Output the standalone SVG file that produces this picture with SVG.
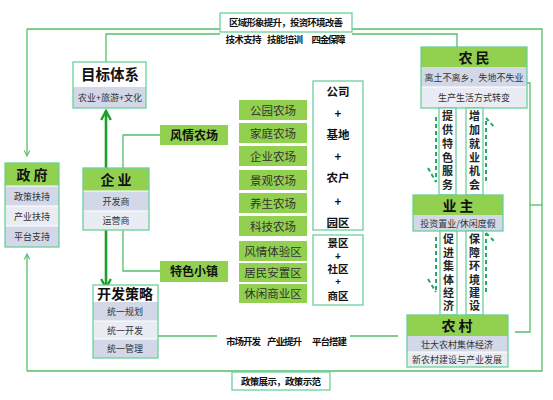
<svg xmlns="http://www.w3.org/2000/svg" width="553" height="400" viewBox="0 0 553 400">
<style>
text{font-family:"Noto Sans CJK SC","Noto Sans",sans-serif;fill:#222;text-anchor:middle}
.ln{fill:none;stroke:#55bd6b;stroke-width:1.3}
.bx{fill:none;stroke:#6ccf9c;stroke-width:1.3}
.wb{fill:#fff;stroke:#6ccf9c;stroke-width:1.3}
.hd{fill:#92d050}
.r1{fill:#d3d8e8}
.r2{fill:#e9ecf3}
.sep{stroke:#fff;stroke-width:1.2}
.h{font-size:14px;font-weight:bold;fill:#111}
.s{font-size:9px;fill:#333}
.b9{font-size:9.5px;font-weight:bold;fill:#111}
.fm{font-size:11.5px;fill:#333}
.pl{font-size:11.5px;font-weight:bold;fill:#111}
.vt{font-size:11px;font-weight:bold;fill:#222;writing-mode:vertical-rl}
.thick{fill:none;stroke:#1f9e2c;stroke-width:2.6}
.dash{fill:none;stroke:#22aa66;stroke-width:2;stroke-dasharray:4 3}
</style>
<defs>
<marker id="a1" viewBox="0 0 10 10" refX="9" refY="5" markerWidth="7" markerHeight="7" orient="auto" markerUnits="userSpaceOnUse">
<path d="M1,1 L9,5 L1,9" fill="none" stroke="#55bd6b" stroke-width="1.5"/>
</marker>
<marker id="a2" viewBox="0 0 10 10" refX="8.5" refY="5" markerWidth="12" markerHeight="12" orient="auto" markerUnits="userSpaceOnUse">
<path d="M1,1 L8.5,5 L1,9" fill="none" stroke="#1f9e2c" stroke-width="2"/>
</marker>
</defs>

<g id="connectors">
<path class="ln" d="M27,29 V156" marker-end="url(#a1)"/>
<path class="ln" d="M27,371 V254" marker-end="url(#a1)"/>
<path class="ln" d="M27,29 H542 V371 H27"/>
<path class="ln" d="M527,83 H530 V332 H515"/>
<path class="ln" d="M530,205 H542"/>
<path class="ln" d="M106,62 V34 H220"/>
<path class="ln" d="M352,34 H457 V47"/>
<path class="ln" d="M123,168 V135 H160"/>
<path class="ln" d="M123,230 V271 H160"/>
<path class="ln" d="M158,336 H217"/>
<path class="ln" d="M350,336 H398"/>
<path class="thick" d="M106,168 V111" marker-end="url(#a2)"/>
<path class="thick" d="M106,230 V288" marker-end="url(#a2)"/>
<path class="dash" d="M436,117 V182 M428,168 L436,182"/>
<path class="dash" d="M486,181 V118 M486,118 L495,128"/>
<path class="dash" d="M436,237 V292 M428,279 L436,292"/>
<path class="dash" d="M486,292 V233 M486,233 L496,243"/>
<text class="b9" x="243.5" y="43" textLength="36">技术支持</text>
<text class="b9" x="285" y="43" textLength="36">技能培训</text>
<text class="b9" x="328.5" y="43" textLength="34">四金保障</text>
<text class="b9" x="243.5" y="345" textLength="35">市场开发</text>
<text class="b9" x="284.5" y="345" textLength="35">产业提升</text>
<text class="b9" x="329.5" y="345" textLength="35">平台搭建</text>
</g>

<g id="top-box">
<rect class="wb" x="220" y="13" width="132" height="19"/>
<text class="b9" x="286" y="26" textLength="114">区域形象提升，投资环境改善</text>
</g>

<g id="bottom-box">
<rect class="wb" x="232" y="372" width="98" height="18"/>
<text class="b9" x="281" y="385" textLength="80">政策展示，政策示范</text>
</g>

<g id="zhengfu">
<rect class="hd" x="5" y="163" width="54" height="23"/>
<rect class="r1" x="5" y="186" width="54" height="20"/>
<rect class="r2" x="5" y="206" width="54" height="20"/>
<rect class="r1" x="5" y="226" width="54" height="21"/>
<path class="sep" d="M5,186 H59 M5,206 H59 M5,226 H59"/>
<rect class="bx" x="5" y="163" width="54" height="84"/>
<text class="h" x="32" y="180">政 府</text>
<text class="s" x="32" y="200">政策扶持</text>
<text class="s" x="32" y="220">产业扶持</text>
<text class="s" x="32" y="240">平台支持</text>
</g>

<g id="mubiao">
<rect fill="#fff" x="73" y="62" width="73" height="25"/>
<rect class="r1" x="73" y="87" width="73" height="21"/>
<rect class="bx" x="73" y="62" width="73" height="46"/>
<text class="h" x="110" y="80" style="font-size:14.5px">目标体系</text>
<text class="s" x="110" y="101">农业+旅游+文化</text>
</g>

<g id="qiye">
<rect class="hd" x="83" y="168" width="66" height="23"/>
<rect class="r1" x="83" y="191" width="66" height="20"/>
<rect class="r2" x="83" y="211" width="66" height="19"/>
<path class="sep" d="M83,191 H149 M83,211 H149"/>
<rect class="bx" x="83" y="168" width="66" height="62"/>
<text class="h" x="116" y="185">企 业</text>
<text class="s" x="116" y="205">开发商</text>
<text class="s" x="116" y="224">运营商</text>
</g>

<g id="kaifa">
<rect fill="#fff" x="93" y="285" width="65" height="17"/>
<rect class="r1" x="93" y="302" width="65" height="19"/>
<rect class="r2" x="93" y="321" width="65" height="18"/>
<rect class="r1" x="93" y="339" width="65" height="19"/>
<path class="sep" d="M93,321 H158 M93,339 H158"/>
<rect class="bx" x="93" y="285" width="65" height="73"/>
<text class="h" x="125" y="299">开发策略</text>
<text class="s" x="125" y="315">统一规划</text>
<text class="s" x="125" y="334">统一开发</text>
<text class="s" x="125" y="352">统一管理</text>
</g>

<g id="fengqing">
<rect class="hd" x="160" y="125" width="68" height="20"/>
<text class="pl" x="194" y="139.5" style="font-size:12px">风情农场</text>
</g>

<g id="tese">
<rect class="hd" x="160" y="261" width="68" height="21"/>
<text class="pl" x="194" y="276" style="font-size:12px">特色小镇</text>
</g>

<g id="farms">
<rect class="hd" x="239" y="100" width="68" height="20"/>
<rect class="hd" x="239" y="123" width="68" height="20"/>
<rect class="hd" x="239" y="146" width="68" height="20"/>
<rect class="hd" x="239" y="170" width="68" height="20"/>
<rect class="hd" x="239" y="193" width="68" height="20"/>
<rect class="hd" x="239" y="216" width="68" height="20"/>
<text class="fm" x="273" y="114.5">公园农场</text>
<text class="fm" x="273" y="137.5">家庭农场</text>
<text class="fm" x="273" y="160.5">企业农场</text>
<text class="fm" x="273" y="184.5">景观农场</text>
<text class="fm" x="273" y="207.5">养生农场</text>
<text class="fm" x="273" y="230.5">科技农场</text>
</g>

<g id="zones">
<rect class="hd" x="239" y="241" width="68" height="20"/>
<rect class="hd" x="239" y="263" width="68" height="19"/>
<rect class="hd" x="239" y="284" width="68" height="19"/>
<text class="fm" x="273" y="256">风情体验区</text>
<text class="fm" x="273" y="277">居民安置区</text>
<text class="fm" x="273" y="298">休闲商业区</text>
</g>

<g id="gongsi">
<rect class="wb" x="313" y="81" width="50" height="149"/>
<text class="pl"><tspan x="338" y="96">公司</tspan><tspan x="338" y="118">+</tspan><tspan x="338" y="139">基地</tspan><tspan x="338" y="161">+</tspan><tspan x="338" y="182">农户</tspan><tspan x="338" y="206">+</tspan><tspan x="338" y="227">园区</tspan></text>
</g>

<g id="jingqu">
<rect class="wb" x="313" y="235" width="50" height="70"/>
<text class="pl" style="font-size:10.5px"><tspan x="338" y="247">景区</tspan><tspan x="338" y="260" style="font-family:'Liberation Sans',sans-serif;font-size:10px">+</tspan><tspan x="338" y="273">社区</tspan><tspan x="338" y="285" style="font-family:'Liberation Sans',sans-serif;font-size:9.5px">+</tspan><tspan x="338" y="299.5">商区</tspan></text>
</g>

<g id="nongmin">
<rect class="hd" x="421" y="47" width="106" height="20"/>
<rect class="r1" x="421" y="67" width="106" height="20"/>
<rect class="r2" x="421" y="87" width="106" height="21"/>
<path class="sep" d="M421,87 H527"/>
<rect class="bx" x="421" y="47" width="106" height="61"/>
<text class="h" x="474" y="63">农 民</text>
<text class="s" x="474" y="81">离土不离乡，失地不失业</text>
<text class="s" x="474" y="101">生产生活方式转变</text>
</g>

<g id="v1">
<rect class="wb" x="439" y="108" width="17" height="87"/>
<text class="vt" x="447.5" y="152" style="letter-spacing:2.8px">提供特色服务</text>
</g>

<g id="v2">
<rect class="wb" x="466" y="108" width="17" height="87"/>
<text class="vt" x="474.5" y="152" style="letter-spacing:2.8px">增加就业机会</text>
</g>

<g id="yezhu">
<rect class="hd" x="413" y="195" width="90" height="20"/>
<rect class="r1" x="413" y="215" width="90" height="16"/>
<rect class="bx" x="413" y="195" width="90" height="36"/>
<text class="h" x="458" y="211">业 主</text>
<text class="s" x="458" y="227">投资置业/休闲度假</text>
</g>

<g id="v3">
<rect class="wb" x="440" y="231" width="17" height="84"/>
<text class="vt" x="448.5" y="274" style="letter-spacing:2.4px">促进集体经济</text>
</g>

<g id="v4">
<rect class="wb" x="466" y="231" width="17" height="84"/>
<text class="vt" x="474.5" y="274" style="letter-spacing:2.4px">保障环境建设</text>
</g>

<g id="nongcun">
<rect class="hd" x="407" y="315" width="101" height="21"/>
<rect class="r1" x="407" y="336" width="101" height="16"/>
<rect class="r2" x="407" y="352" width="101" height="15"/>
<path class="sep" d="M407,352 H508"/>
<rect class="bx" x="407" y="315" width="101" height="52"/>
<text class="h" x="457" y="331">农 村</text>
<text class="s" x="457" y="348">壮大农村集体经济</text>
<text class="s" x="457" y="363">新农村建设与产业发展</text>
</g>
</svg>
